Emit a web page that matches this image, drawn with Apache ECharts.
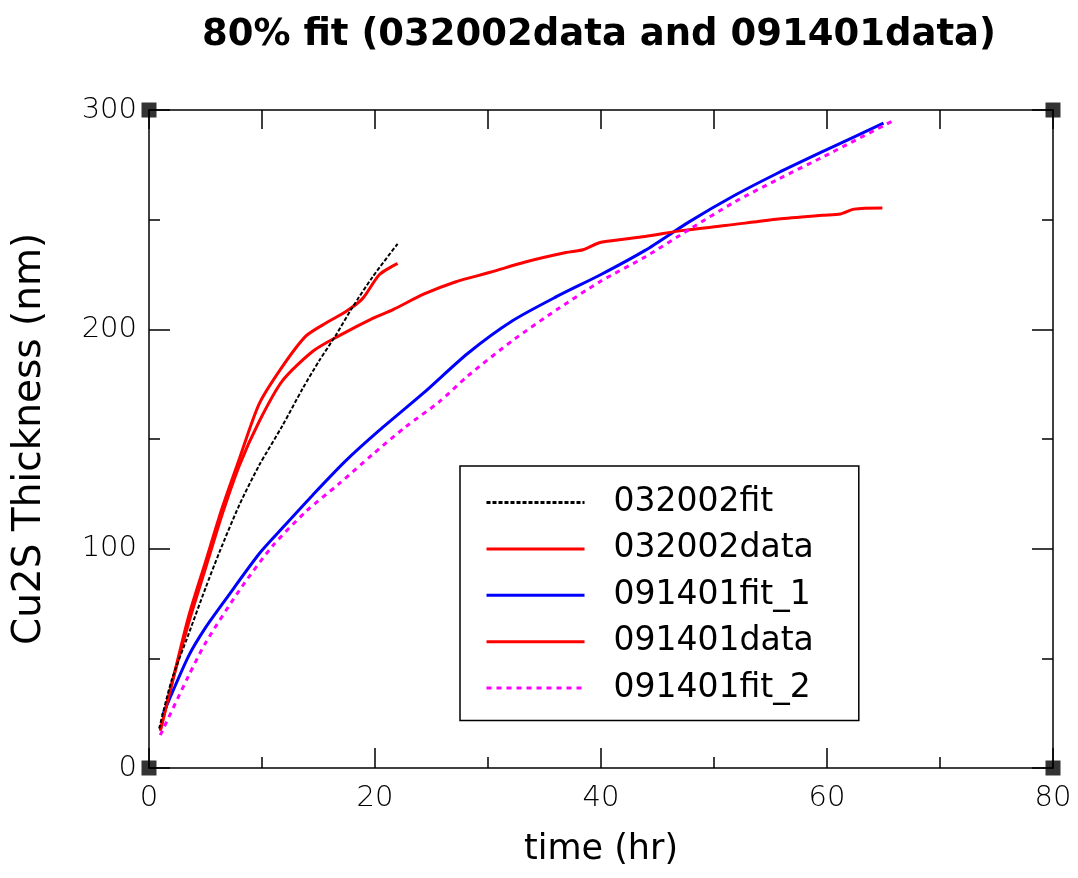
<!DOCTYPE html>
<html>
<head>
<meta charset="utf-8">
<script src="https://cdn.jsdelivr.net/npm/echarts@6/dist/echarts.min.js"></script>
<style>html,body{margin:0;padding:0;background:#fff}#c{width:1078px;height:878px}</style>
</head>
<body>
<div id="c"></div>
<script>
// ---- data ----
const fit032002_t = [0.9, 2.0, 3.5, 5.0, 6.2, 8.0, 9.75, 11.8, 13.6, 15.1, 16.5, 18.0, 19.8, 22.0];
const fit032002_v = [18, 40, 61, 82, 98, 120, 138, 156, 173, 186, 197, 210, 224, 239];

const data032002_t = [1.0, 2.1, 3.5, 5.0, 6.5, 8.0, 9.75, 11.8, 13.9, 15.7, 17.4, 18.9, 20.4, 22.0];
const data032002_v = [17, 40, 69, 94, 119, 141, 166, 183, 197, 203, 208, 214, 225, 230];

const fit1_091401_t = [1.2, 3.5, 5.0, 6.8, 9.75, 11.8, 14.5, 17.4, 20.4, 24.3, 28.2, 32.2, 36.1, 40.0, 43.9, 47.8, 51.8, 55.7, 59.6, 65.0];
const fit1_091401_v = [24, 51, 64, 77, 97.7, 109.4, 124.5, 140, 154, 171, 189, 204, 215, 225, 236, 249, 261, 271.4, 281, 294];

const data091401_t = [1.0, 2.1, 3.5, 5.0, 6.5, 8.0, 9.75, 11.8, 14.5, 16.8, 19.8, 21.6, 24.3, 27.1, 30.2, 33.3, 36.9, 38.4, 40.0, 43.9, 47.1, 51.0, 55.7, 59.6, 61.2, 62.4, 64.9];
const data091401_v = [17, 40, 66, 91, 116, 138, 158, 176.5, 190, 197, 205, 209, 216, 221.6, 226, 230.7, 235, 236.3, 239.7, 242.3, 245, 247.3, 250.3, 252, 252.6, 254.8, 255.3];

const fit2_091401_t = [1.0, 3.5, 5.0, 8.0, 10.9, 13.9, 16.8, 19.8, 22.7, 25.7, 28.2, 32.2, 36.1, 40.0, 43.9, 47.8, 51.8, 55.7, 59.6, 66.0];
const fit2_091401_v = [15, 42, 57, 81, 101, 117, 129.5, 143, 155.5, 167, 178.7, 195, 209, 222, 233, 245.5, 258, 268.5, 278.5, 295.5];

const cornerX = [0, 80, 0, 80];
const cornerY = [0, 0, 300, 300];

const seriesNames = ['032002fit', '032002data', '091401fit_1', '091401data', '091401fit_2'];
const titleText = '80% fit (032002data and 091401data)';
const xName = 'time (hr)';
const yName = 'Cu2S Thickness (nm)';

const zip = (a, b) => a.map((x, i) => [x, b[i]]);

const labelFont = { fontFamily: 'DejaVu Sans', fontSize: 29, fontWeight: 'lighter', color: '#000' };
const lineCommon = { type: 'line', symbol: 'none', smooth: 0.25 };

const chart = echarts.init(document.getElementById('c'), null, { renderer: 'canvas' });
chart.setOption({
  animation: false,
  backgroundColor: '#fff',
  title: {
    text: titleText, left: 197, top: 12,
    textStyle: { fontFamily: 'DejaVu Sans', fontWeight: 'bold', fontSize: 37, color: '#000' }
  },
  grid: { left: 149, right: 25, top: 110, bottom: 110 },
  legend: {
    data: seriesNames,
    orient: 'vertical', left: 460, top: 466,
    padding: [20, 45, 16, 25],
    itemWidth: 98, itemHeight: 20, itemGap: 13.4,
    borderColor: '#000', borderWidth: 1.5,
    itemStyle: { color: 'transparent', borderWidth: 0, opacity: 0 },
    lineStyle: { width: 3 },
    textStyle: { fontFamily: 'DejaVu Sans', fontSize: 33, color: '#000', padding: [0, 0, 0, 24] }
  },
  xAxis: [{
    type: 'value', min: 0, max: 80, interval: 20, position: 'bottom',
    name: xName, nameLocation: 'middle', nameGap: 64,
    nameTextStyle: { fontFamily: 'DejaVu Sans', fontSize: 35, color: '#000' },
    axisLine: { show: true, onZero: false, lineStyle: { color: '#000', width: 1.5 } },
    axisTick: { show: true, inside: true, length: 20, lineStyle: { color: '#000', width: 1.5 } },
    minorTick: { show: true, splitNumber: 2, length: 11, lineStyle: { color: '#000', width: 1.5 } },
    axisLabel: Object.assign({ margin: 16 }, labelFont),
    splitLine: { show: false }
  }, {
    type: 'value', min: 0, max: 80, interval: 10, position: 'top',
    axisLine: { show: true, onZero: false, lineStyle: { color: '#000', width: 1.5 } },
    axisTick: { show: true, inside: true, length: 19, lineStyle: { color: '#000', width: 1.5 } },
    axisLabel: { show: false }, splitLine: { show: false }
  }],
  yAxis: [{
    type: 'value', min: 0, max: 300, interval: 100, position: 'left',
    name: yName, nameLocation: 'middle', nameGap: 100,
    nameTextStyle: { fontFamily: 'DejaVu Sans', fontSize: 39, color: '#000' },
    axisLine: { show: true, onZero: false, lineStyle: { color: '#000', width: 1.5 } },
    axisTick: { show: true, inside: true, length: 21, lineStyle: { color: '#000', width: 1.5 } },
    minorTick: { show: true, splitNumber: 2, length: 11, lineStyle: { color: '#000', width: 1.5 } },
    axisLabel: Object.assign({ margin: 12 }, labelFont),
    splitLine: { show: false }
  }, {
    type: 'value', min: 0, max: 300, interval: 100, position: 'right',
    axisLine: { show: true, onZero: false, lineStyle: { color: '#000', width: 1.5 } },
    axisTick: { show: true, inside: true, length: 21, lineStyle: { color: '#000', width: 1.5 } },
    minorTick: { show: true, splitNumber: 2, length: 11, lineStyle: { color: '#000', width: 1.5 } },
    axisLabel: { show: false }, splitLine: { show: false }
  }],
  series: [
    Object.assign({ name: seriesNames[0], data: zip(fit032002_t, fit032002_v), z: 5,
      lineStyle: { color: '#000', width: 2, type: [4, 2] }, itemStyle: { color: '#000' } }, lineCommon),
    Object.assign({ name: seriesNames[1], data: zip(data032002_t, data032002_v),
      lineStyle: { color: '#ff0000', width: 3 }, itemStyle: { color: '#ff0000' } }, lineCommon),
    Object.assign({ name: seriesNames[2], data: zip(fit1_091401_t, fit1_091401_v),
      lineStyle: { color: '#0000ff', width: 3 }, itemStyle: { color: '#0000ff' } }, lineCommon),
    Object.assign({ name: seriesNames[3], data: zip(data091401_t, data091401_v),
      lineStyle: { color: '#ff0000', width: 3 }, itemStyle: { color: '#ff0000' } }, lineCommon),
    Object.assign({ name: seriesNames[4], data: zip(fit2_091401_t, fit2_091401_v),
      lineStyle: { color: '#ff00ff', width: 3, type: [5, 5] }, itemStyle: { color: '#ff00ff' } }, lineCommon),
    { name: 'corners', type: 'scatter', data: zip(cornerX, cornerY), symbol: 'rect', symbolSize: 15,
      itemStyle: { color: '#000' }, silent: true, z: 10 }
  ]
});
</script>
</body>
</html>
